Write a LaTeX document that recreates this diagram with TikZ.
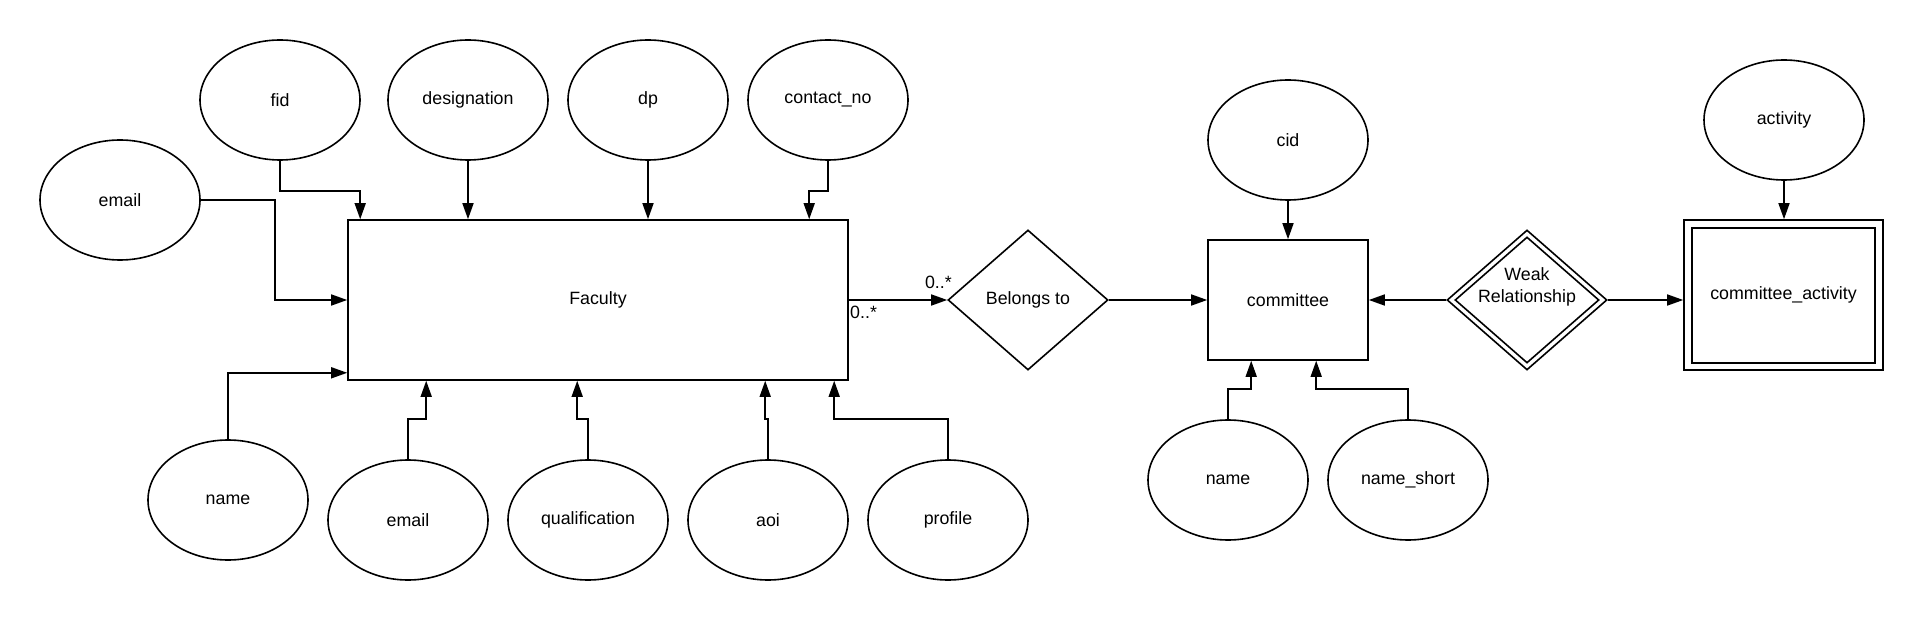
\documentclass[tikz,border=0pt]{standalone}
\usepackage{fontspec}
\setmainfont{Liberation Sans}
\usetikzlibrary{arrows.meta,shapes.geometric,calc}
\begin{document}
\begin{tikzpicture}[x=1pt,y=-1pt,
  every node/.style={font=\fontsize{17.8}{21.4}\selectfont, inner sep=0pt},
  attr/.style={draw, ellipse, line width=1.6pt, minimum width=160pt, minimum height=120pt},
  ent/.style={draw, rectangle, line width=1.6pt},
  rel/.style={draw, diamond, line width=1.6pt},
  conn/.style={line width=1.6pt, -{Triangle[length=16pt,width=11pt]}}
  ]
\useasboundingbox[fill=white] (0,0) rectangle (1928,620);

% Faculty side
\node[ent, minimum width=500pt, minimum height=160pt] (fac) at (598,300) {Faculty};
\node[attr] (email1) at (120,200) {email};
\node[attr] (fid) at (280,100) {fid};
\node[attr] (des) at (468,100) {designation};
\node[attr] (dp) at (648,100) {dp};
\node[attr] (con) at (828,100) {contact\_no};
\node[attr] (name1) at (228,500) {name};
\node[attr] (email2) at (408,520) {email};
\node[attr] (qual) at (588,520) {qualification};
\node[attr] (aoi) at (768,520) {aoi};
\node[attr] (prof) at (948,520) {profile};

% relationship and committee
\node[rel, minimum width=160pt, minimum height=140pt] (bel) at (1028,300) {Belongs to};
\node[ent, minimum width=160pt, minimum height=120pt] (com) at (1288,300) {committee};
\node[attr] (cid) at (1288,140) {cid};
\node[attr] (name2) at (1228,480) {name};
\node[attr] (nshort) at (1408,480) {name\_short};

% weak relationship
\node[rel, minimum width=160pt, minimum height=140pt] (weak) at (1527,300) {};
\node[rel, minimum width=144pt, minimum height=126pt] (weakin) at (1527,300) {};
\node[align=center] (weaktxt) at (1527,287) {Weak\\Relationship};

% weak entity
\node[ent, minimum width=199pt, minimum height=150pt] (ca) at (1783.5,295) {committee\_activity};
\node[ent, minimum width=183pt, minimum height=135pt] (cain) at (1783.5,295.5) {};
\node[attr] (act) at (1784,120) {activity};

% connectors into Faculty
\draw[conn] (email1.east) -- ++(74,0) |- (fac.west);
\draw[conn] (fid.south) -- ++(0,30) -| ($(fac.north west)+(13,0)$);
\draw[conn] (des.south) -- (des.south |- fac.north);
\draw[conn] (dp.south) -- (dp.south |- fac.north);
\draw[conn] (con.south) -- ++(0,30) -| ($(fac.north west)+(462,0)$);
\draw[conn] (name1.north) |- ($(fac.south west)+(0,-8)$);
\draw[conn] (email2.north) -- ++(0,-40) -| ($(fac.south west)+(79,0)$);
\draw[conn] (qual.north) -- ++(0,-40) -| ($(fac.south west)+(230,0)$);
\draw[conn] (aoi.north) -- ++(0,-40) -| ($(fac.south west)+(418,0)$);
\draw[conn] (prof.north) -- ++(0,-40) -| ($(fac.south west)+(487,0)$);

% relationship connectors
\draw[conn] (fac.east) -- (bel.west);
\node[anchor=base east] (cardA) at (952,289) {0..*};
\node[anchor=north west] (cardB) at (850,306) {0..*};
\draw[conn] (bel.east) -- (com.west);
\draw[conn] (cid.south) -- (com.north);
\draw[conn] (name2.north) -- ++(0,-30) -| ($(com.south west)+(44,0)$);
\draw[conn] (nshort.north) -- ++(0,-30) -| ($(com.south west)+(109,0)$);
\draw[conn] (weak.west) -- (com.east);
\draw[conn] (weak.east) -- (weak.east -| ca.west);
\draw[conn] (act.south) -- (act.south |- ca.north);
\end{tikzpicture}
\end{document}
